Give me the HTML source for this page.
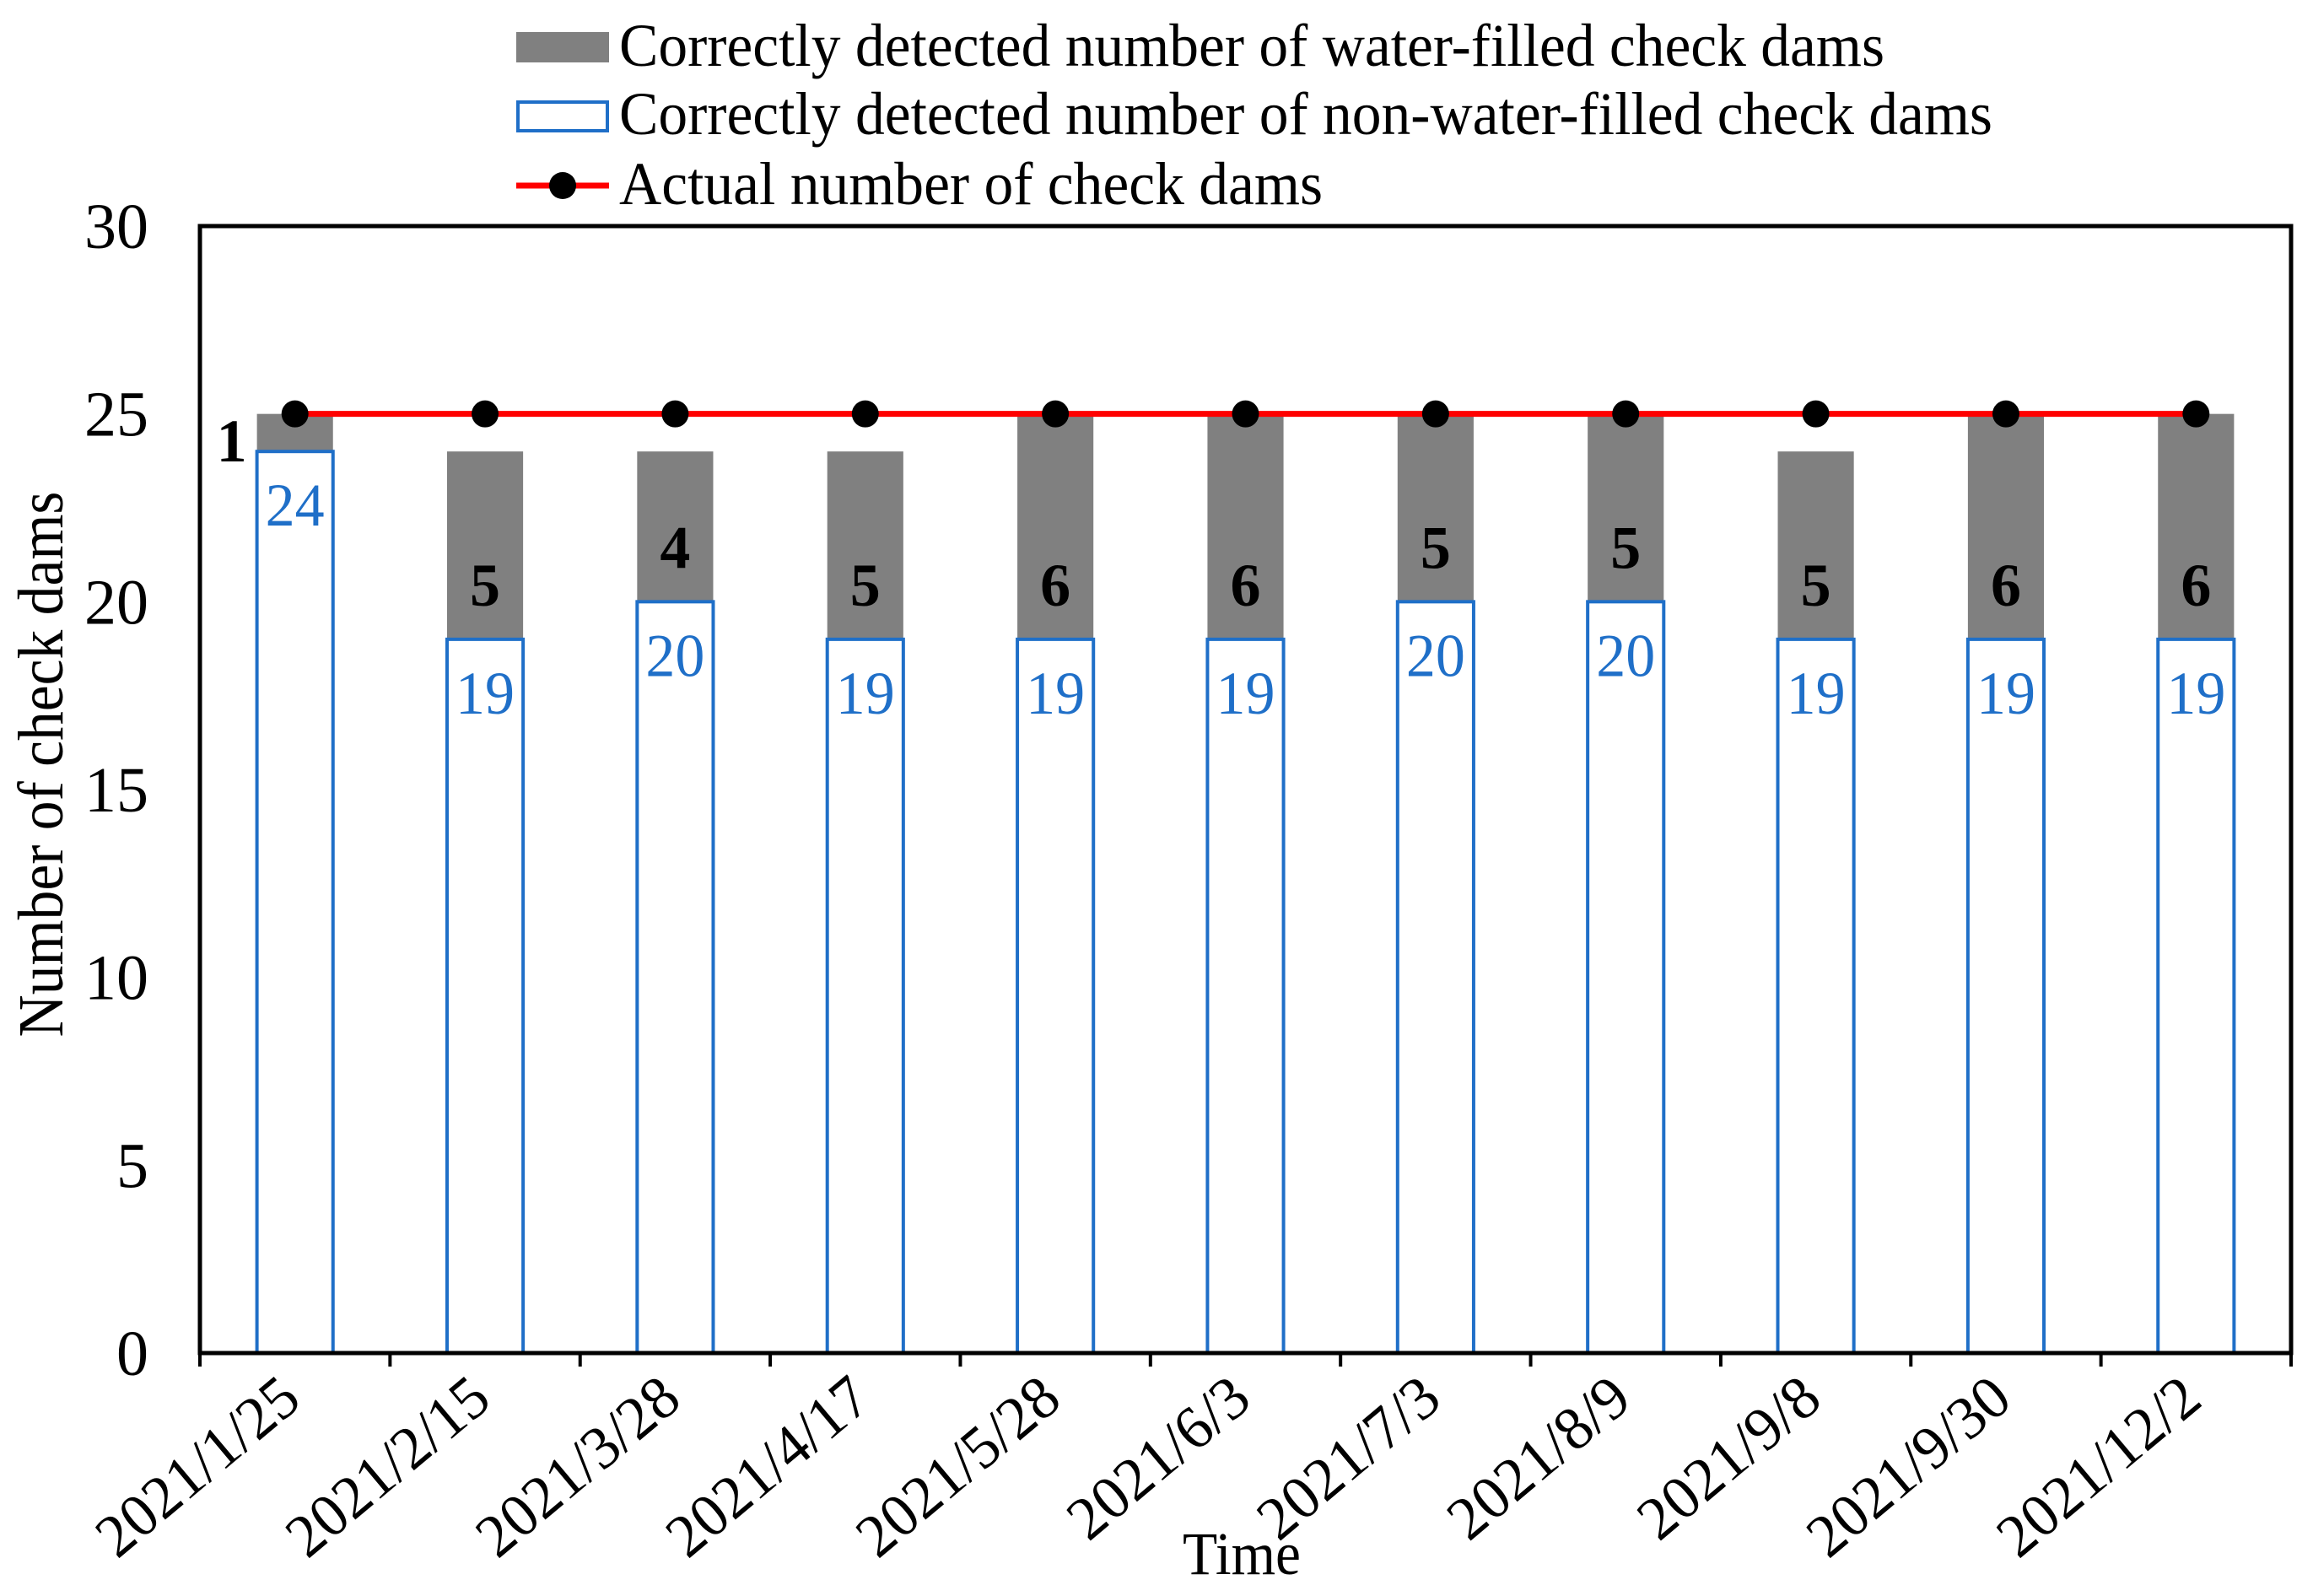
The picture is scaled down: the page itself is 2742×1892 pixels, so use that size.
<!DOCTYPE html>
<html><head><meta charset="utf-8"><style>
html,body{margin:0;padding:0;background:#fff;}
svg{display:block;font-family:"Liberation Serif","Times New Roman",serif;}
</style></head><body>
<svg id="chart" width="2742" height="1892" viewBox="0 0 2742 1892" xmlns="http://www.w3.org/2000/svg">
<g id="legend">
  <rect x="612" y="38" width="110" height="36" fill="#808080"/>
  <text x="734" y="78" font-size="72" textLength="1500" lengthAdjust="spacingAndGlyphs">Correctly detected number of water-filled check dams</text>
  <rect x="614" y="121" width="106" height="34" fill="#fff" stroke="#1f6fc8" stroke-width="4"/>
  <text x="734" y="159" font-size="72" textLength="1628" lengthAdjust="spacingAndGlyphs">Correctly detected number of non-water-filled check dams</text>
  <line x1="612" y1="220" x2="722" y2="220" stroke="#ff0000" stroke-width="7"/>
  <circle cx="667" cy="220" r="16" fill="#000"/>
  <text x="734" y="242" font-size="72" textLength="834" lengthAdjust="spacingAndGlyphs">Actual number of check dams</text>
</g>
<g id="plot"></g>
<text x="0" y="0" transform="translate(74,906) rotate(-90)" text-anchor="middle" font-size="76" textLength="647" lengthAdjust="spacingAndGlyphs">Number of check dams</text>
<text x="1472" y="1866" text-anchor="middle" font-size="72" textLength="140" lengthAdjust="spacingAndGlyphs">Time</text>
</svg>
<script>
const categories = ["2021/1/25","2021/2/15","2021/3/28","2021/4/17","2021/5/28","2021/6/3","2021/7/3","2021/8/9","2021/9/8","2021/9/30","2021/12/2"];
const nonWaterValues = [24,19,20,19,19,19,20,20,19,19,19];
const waterValues = [1,5,4,5,6,6,5,5,5,6,6];
const actualValues = [25,25,25,25,25,25,25,25,25,25,25];
const yTicks = [0,5,10,15,20,25,30];

const NS = "http://www.w3.org/2000/svg";
const L = 237, R = 2716, T = 268, B = 1604, YMAX = 30;
const bandW = (R - L) / categories.length;
const barW = bandW * 0.40;
function y(v){ return B - (v / YMAX) * (B - T); }
function xc(i){ return L + bandW * (i + 0.5); }
const plot = document.getElementById('plot');
function mk(tag, attrs, parent){
  const e = document.createElementNS(NS, tag);
  for (const k in attrs) e.setAttribute(k, attrs[k]);
  (parent || plot).appendChild(e);
  return e;
}

categories.forEach((c, i) => {
  const nw = nonWaterValues[i], w = waterValues[i];
  const g = mk('rect', {x: xc(i) - barW/2, y: y(nw + w), width: barW, height: y(nw) - y(nw + w), fill: '#808080'});
  
  
  const b = mk('rect', {x: xc(i) - barW/2, y: y(nw), width: barW, height: y(0) - y(nw), fill: '#fff', stroke: '#1f6fc8', 'stroke-width': 4});
  
  
  const t1 = mk('text', {x: xc(i), y: y(nw) + 88, 'text-anchor': 'middle', 'font-size': 72, fill: '#1f6fc8', textLength: 70, lengthAdjust: 'spacingAndGlyphs'});
  t1.textContent = nw;
  
  
  const segH = y(nw) - y(nw + w);
  let t2;
  if (segH < 70) {
    t2 = mk('text', {x: xc(i) - barW/2 - 12, y: (y(nw) + y(nw + w))/2 + 34, 'text-anchor': 'end', 'font-size': 72, 'font-weight': 'bold'});
  } else {
    t2 = mk('text', {x: xc(i), y: y(nw) - 40, 'text-anchor': 'middle', 'font-size': 72, 'font-weight': 'bold'});
  }
  t2.textContent = w;
  
  
});

const frame = mk('rect', {x: L, y: T, width: R - L, height: B - T, fill: 'none', stroke: '#000', 'stroke-width': 5});



yTicks.forEach(v => {
  const t = mk('text', {x: 176, y: y(v) + 26, 'text-anchor': 'end', 'font-size': 76});
  t.textContent = v;
  
  
});

for (let i = 0; i <= categories.length; i++) {
  const tk = mk('line', {x1: L + bandW * i, y1: B, x2: L + bandW * i, y2: B + 16, stroke: '#000', 'stroke-width': 4});
  
  
}
categories.forEach((c, i) => {
  const t = mk('text', {x: 0, y: 0, 'text-anchor': 'end', 'font-size': 72, textLength: c.length * 32, lengthAdjust: 'spacingAndGlyphs', transform: 'translate(' + (xc(i) + 10) + ',' + (B + 60) + ') rotate(-40)'});
  t.textContent = c;
  
  
});

const pts = actualValues.map((v, i) => xc(i) + ',' + y(v)).join(' ');
const line = mk('polyline', {points: pts, fill: 'none', stroke: '#ff0000', 'stroke-width': 7});


actualValues.forEach((v, i) => {
  const c = mk('circle', {cx: xc(i), cy: y(v), r: 16, fill: '#000'});
  
  
});
</script>
</body></html>
